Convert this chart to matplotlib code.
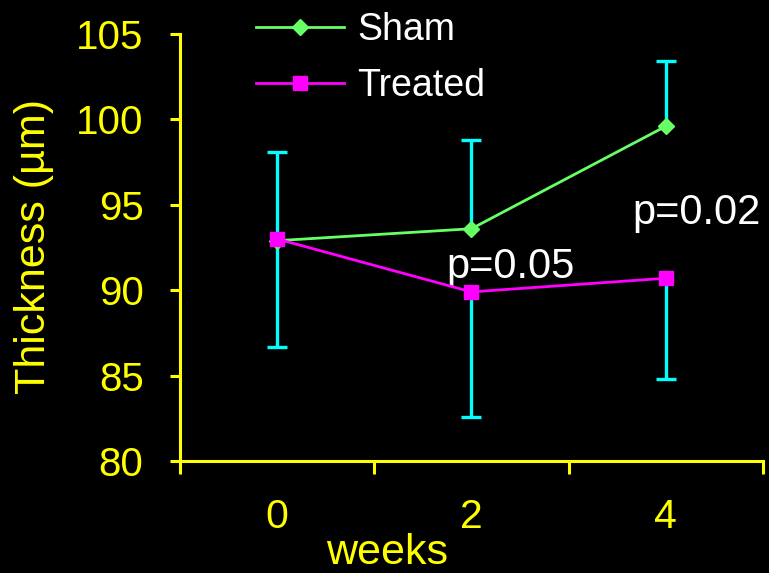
import matplotlib
matplotlib.use("Agg")
import matplotlib.pyplot as plt
from matplotlib.ticker import FixedLocator
import numpy as np

plt.rcParams['font.family'] = ['Liberation Sans', 'DejaVu Sans']

weeks = ["0", "2", "4"]
sham = [92.9, 93.6, 99.6]
sham_err_up = [5.2, 5.2, 3.8]
treated = [93.0, 89.9, 90.7]
treated_err_down = [6.3, 7.3, 5.9]
yticks = [80, 85, 90, 95, 100, 105]

YEL = '#FFFF00'
GRN = '#66FF66'
MAG = '#FF00FF'
CYA = '#00FFFF'

W, H = 769, 573
fig = plt.figure(figsize=(W / 100, H / 100), dpi=100, facecolor='black')
ax = fig.add_axes([180 / W, 1 - 461 / H, (763 - 180) / W, (461 - 34) / H])
ax.set_facecolor('black')

x = np.arange(len(weeks))
zeros = np.zeros(len(weeks))

eb1 = ax.errorbar(x, sham, yerr=[zeros, sham_err_up], fmt='none', ecolor=CYA,
                  elinewidth=2.4, capsize=7.2, capthick=2.4, zorder=1)
eb1[1][0].set_visible(False)
eb2 = ax.errorbar(x, treated, yerr=[treated_err_down, zeros], fmt='none', ecolor=CYA,
                  elinewidth=2.4, capsize=7.2, capthick=2.4, zorder=1)
eb2[1][1].set_visible(False)

l1, = ax.plot(x, sham, color=GRN, lw=2.0, marker='D', ms=8, mec=GRN, mfc=GRN,
              label='Sham', zorder=3, clip_on=False)
l2, = ax.plot(x, treated, color=MAG, lw=2.0, marker='s', ms=9.5, mec=MAG, mfc=MAG,
              label='Treated', zorder=4, clip_on=False)

ax.set_xlim(-0.5, len(weeks) - 0.5)
ax.set_ylim(80, 105)
ax.set_yticks(yticks)
ax.set_yticklabels([str(v) for v in yticks])
ax.set_xticks(x)
ax.set_xticklabels(weeks)
ax.xaxis.set_minor_locator(FixedLocator(np.arange(-0.5, len(weeks), 1.0)))

for s in ['top', 'right']:
    ax.spines[s].set_visible(False)
for s in ['left', 'bottom']:
    ax.spines[s].set_color(YEL)
    ax.spines[s].set_linewidth(2.2)

ax.tick_params(axis='y', direction='out', length=7.2, width=2.2, color=YEL,
               labelcolor=YEL, labelsize=29, pad=19)
ax.tick_params(axis='x', which='major', length=0, labelcolor=YEL, labelsize=29.5, pad=27)
ax.tick_params(axis='x', which='minor', direction='out', length=9.4, width=2.2, color=YEL)

ax.text(0.871, 90.71, "p=0.05", color='white', fontsize=30, ha='left', va='baseline')
ax.text(1.827, 93.88, "p=0.02", color='white', fontsize=30, ha='left', va='baseline')

leg = ax.legend(handles=[l1, l2], loc='upper left', bbox_to_anchor=(256 / W, 1 - 12 / H),
                bbox_transform=fig.transFigure, frameon=False, fontsize=27,
                handlelength=2.35, handletextpad=0.35, labelspacing=0.53,
                borderpad=0, borderaxespad=0, numpoints=1)
for t in leg.get_texts():
    t.set_color('white')

fig.text(34 / W, 1 - 247 / H, "Thickness (µm)", color=YEL, fontsize=31,
         rotation=90, ha='center', va='center')
fig.text(387 / W, 0.0, "weeks", color=YEL, fontsize=31, ha='center', va='bottom')

fig.savefig('out.png', dpi=100, facecolor='black')
